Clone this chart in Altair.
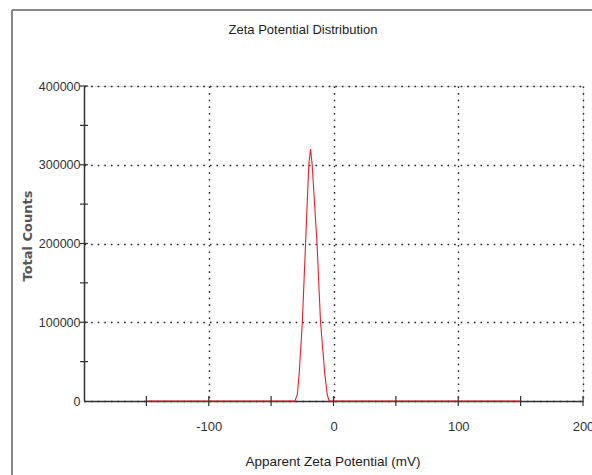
import altair as alt
import pandas as pd

# --- data ---
zeta_mv = [-150, -31, -29, -27.5, -25, -22.4, -19.8, -18.4, -17.1, -13.2, -10.4, -7, -5, -3.5, 150]
counts = [0, 0, 8000, 35000, 100000, 200000, 300000, 320000, 300000, 200000, 100000, 35000, 8000, 0, 0]
x_label_values = [-100, 0, 100, 200]
x_tick_values = [-150, -100, -50, 0, 50, 100, 150, 200]
y_label_values = [0, 100000, 200000, 300000, 400000]
y_tick_values = [50000, 100000, 150000, 200000, 250000, 300000, 350000, 400000]
title_text = "Zeta Potential Distribution"
x_title = "Apparent Zeta Potential (mV)"
y_title = "Total Counts"

W, H = 499, 315
FONT = "Liberation Sans"

df = pd.DataFrame({"x": zeta_mv, "y": counts})

xscale = alt.Scale(domain=[-200, 200], nice=False, zero=False)
yscale = alt.Scale(domain=[0, 400000], nice=False)

xaxis = alt.Axis(values=x_label_values, title=None, ticks=False, labelPadding=19,
                 labelFont=FONT, labelFontSize=13, labelColor="#333",
                 labelExpr="'' + datum.value",
                 grid=True, gridColor="#222", gridDash=[1.6, 5], gridWidth=1.4,
                 domainColor="#333", domainWidth=1.5, labelFlush=False)
yaxis = alt.Axis(values=y_label_values, title=None, ticks=False, labelPadding=4,
                 labelFont=FONT, labelFontSize=12.5, labelColor="#333",
                 labelExpr="'' + datum.value",
                 grid=True, gridColor="#222", gridDash=[1.6, 5], gridWidth=1.4,
                 domainColor="#333", domainWidth=1.5)

line = alt.Chart(df).mark_line(color="#e8202a", strokeWidth=1.1).encode(
    x=alt.X("x:Q", scale=xscale, axis=xaxis),
    y=alt.Y("y:Q", scale=yscale, axis=yaxis),
)

xt = alt.Chart(pd.DataFrame({"x": x_tick_values})).mark_rule(color="#333", strokeWidth=1.2).encode(
    x=alt.X("x:Q", scale=xscale, axis=xaxis),
    y=alt.value(H - 5), y2=alt.value(H + 5),
)
yt = alt.Chart(pd.DataFrame({"y": y_tick_values})).mark_rule(color="#333", strokeWidth=1.2).encode(
    y=alt.Y("y:Q", scale=yscale, axis=yaxis),
    x=alt.value(-4), x2=alt.value(4),
)

frame_left = alt.Chart(pd.DataFrame({"a": [0]})).mark_rule(color="#888", strokeWidth=2).encode(
    x=alt.value(-72), y=alt.value(-76), y2=alt.value(400))
frame_top = alt.Chart(pd.DataFrame({"a": [0]})).mark_rule(color="#888", strokeWidth=2).encode(
    x=alt.value(-72), x2=alt.value(520), y=alt.value(-76))

title = alt.Chart(pd.DataFrame({"t": [title_text]})).mark_text(
    font=FONT, fontSize=13, color="#222").encode(
    text="t:N", x=alt.value(219), y=alt.value(-56))
xtitle = alt.Chart(pd.DataFrame({"t": [x_title]})).mark_text(
    font=FONT, fontSize=13.5, color="#222").encode(
    text="t:N", x=alt.value(249), y=alt.value(376))
ytitle = alt.Chart(pd.DataFrame({"t": [y_title]})).mark_text(
    font="DejaVu Sans", fontWeight="bold", fontSize=13, color="#555", angle=270).encode(
    text="t:N", x=alt.value(-56), y=alt.value(150))

chart = alt.layer(frame_left, frame_top, line, xt, yt, title, xtitle, ytitle).properties(
    width=W, height=H,
    autosize=alt.AutoSizeParams(type="none"),
    padding={"left": 84, "top": 86, "right": 9, "bottom": 74},
).configure_view(stroke=None).configure(background="white")

chart.save("out.html", embed_options={"renderer": "svg", "actions": False})
